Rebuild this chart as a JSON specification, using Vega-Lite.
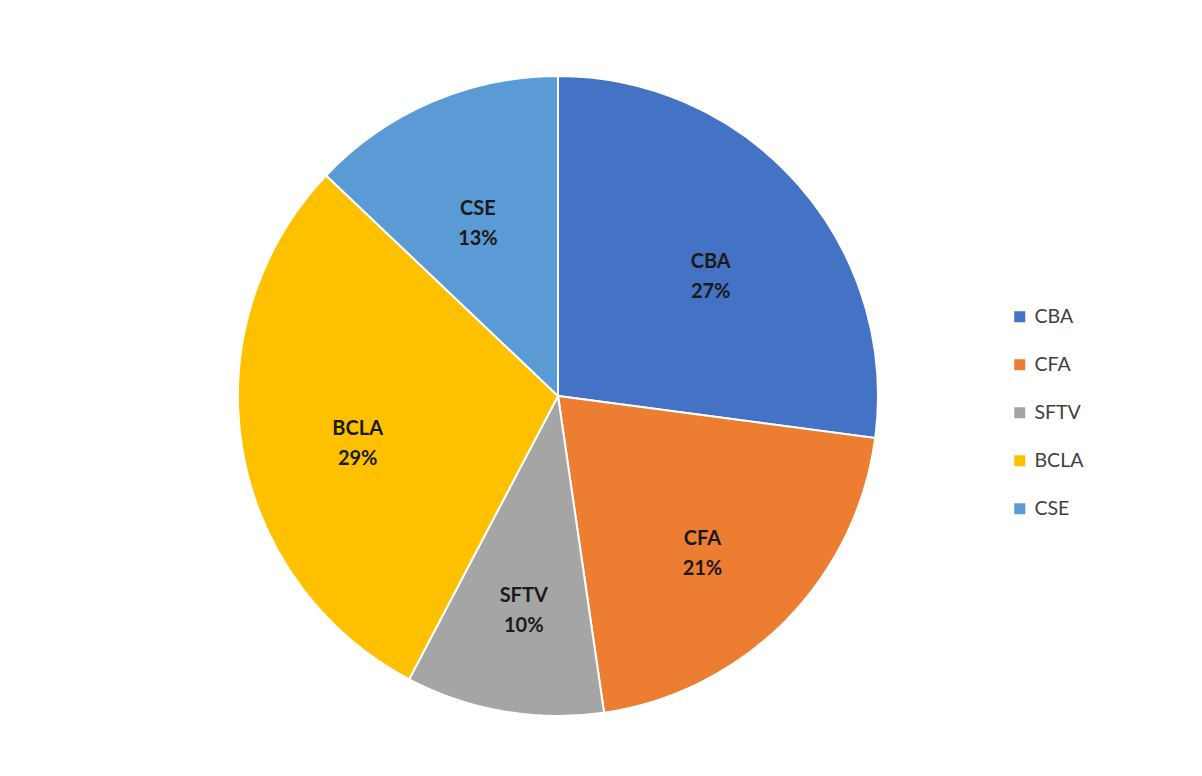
{
  "$schema": "https://vega.github.io/schema/vega-lite/v6.json",
  "width": 1102,
  "height": 778,
  "padding": {"left": 7, "top": 7, "right": 0, "bottom": 0},
  "background": "white",
  "config": {"view": {"stroke": null}, "font": "Lato"},
  "data": {
    "values": [
      {"cat": "CBA", "value": 27.1, "pct": "27%", "idx": 1},
      {"cat": "CFA", "value": 20.6, "pct": "21%", "idx": 2},
      {"cat": "SFTV", "value": 10.0, "pct": "10%", "idx": 3},
      {"cat": "BCLA", "value": 29.4, "pct": "29%", "idx": 4},
      {"cat": "CSE", "value": 12.9, "pct": "13%", "idx": 5}
    ]
  },
  "encoding": {
    "theta": {"field": "value", "type": "quantitative", "stack": true},
    "order": {"field": "idx", "type": "quantitative"}
  },
  "layer": [
    {
      "mark": {"type": "arc", "outerRadius": 320, "stroke": "white", "strokeWidth": 2},
      "encoding": {
        "color": {
          "field": "cat",
          "type": "nominal",
          "scale": {
            "domain": ["CBA", "CFA", "SFTV", "BCLA", "CSE"],
            "range": ["#4472C4", "#ED7D31", "#A5A5A5", "#FFC000", "#5B9BD5"]
          },
          "legend": {
            "title": null,
            "orient": "none",
            "legendX": 1003,
            "legendY": 300,
            "symbolType": "square",
            "symbolSize": 121,
            "symbolStrokeWidth": 0,
            "labelFontSize": 19.5,
            "labelColor": "#404040",
            "labelFont": "Lato",
            "rowPadding": 27,
            "labelOffset": 5
          }
        }
      }
    },
    {
      "mark": {"type": "text", "radius": 203, "fontSize": 20, "fontWeight": "bold", "color": "#1a1a1a", "lineBreak": "|", "lineHeight": 30, "baseline": "middle"},
      "transform": [{"calculate": "datum.cat + '|' + datum.pct", "as": "lab"}],
      "encoding": {
        "text": {"field": "lab", "type": "nominal"}
      }
    }
  ]
}
